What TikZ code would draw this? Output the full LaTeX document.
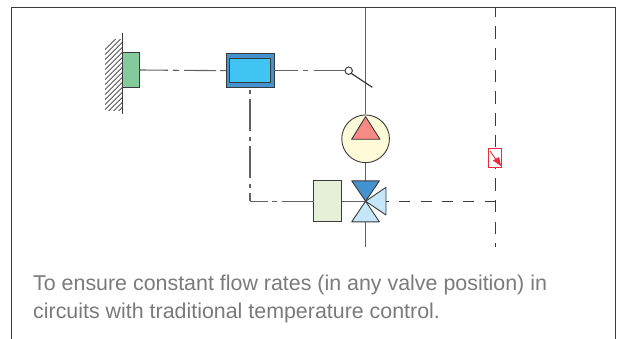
\documentclass[tikz,border=0pt]{standalone}
\usepackage{fontspec}
\setmainfont{Liberation Sans}
\definecolor{lineg}{HTML}{626262}
\definecolor{dark}{HTML}{3A3A3A}
\definecolor{txt}{HTML}{7A7A7A}
\definecolor{sgreen}{HTML}{84CB9B}
\definecolor{bout}{HTML}{4393D0}
\definecolor{binn}{HTML}{40C4F4}
\definecolor{pcream}{HTML}{FFFBD8}
\definecolor{ppink}{HTML}{F78A84}
\definecolor{agreen}{HTML}{E6F0D8}
\definecolor{vblue}{HTML}{4393D0}
\definecolor{vlight}{HTML}{C5E7F9}
\definecolor{sred}{HTML}{EE2B3B}
\tikzset{
  x=1pt,y=-1pt,
  frameline/.style={draw=dark,line width=1pt},
  pipe/.style={draw=lineg,line width=1.1pt},
  ctrl/.style={draw=lineg,line width=1.1pt},
  part/.style={draw=dark,line width=1pt,inner sep=0pt,outer sep=0pt,shape=rectangle},
  tri/.style={draw=dark,line width=0.9pt,line join=round},
  captext/.style={anchor=base west,text=txt,font=\fontsize{21.4pt}{27pt}\selectfont,inner sep=0pt}
}
\begin{document}
\begin{tikzpicture}
\useasboundingbox (0,0) rectangle (617,339);
% frame
\coordinate (fa) at (11,339);
\coordinate (fb) at (11,8);
\coordinate (fc) at (615,8);
\coordinate (fd) at (615,339);
\draw[frameline] (fa) -- (fb) -- (fc) -- (fd);
% wall hatching
\begin{scope}
\clip (105,39.5) rectangle (122.5,110.5);
\foreach \i in {0,...,16} {
  \draw[dark,line width=0.75pt] (105,49.7+\i*5) -- ++(17.5,-17.5);
}
\end{scope}
\coordinate (wt) at (122.5,33);
\coordinate (wb) at (122.5,114);
\draw[dark,line width=1.2pt] (wt) -- (wb);
% nodes
\node[part,fill=sgreen,minimum width=17pt,minimum height=34.5pt] (sensor) at (131,70) {};
\node[part,fill=bout,minimum width=48pt,minimum height=34.5pt] (ctrlbox) at (250,70.7) {};
\node[part,fill=binn,minimum width=41.5pt,minimum height=24pt] (ctrlin) at (250,70.7) {};
\node[draw=dark,line width=1pt,circle,inner sep=0pt,minimum size=7.4pt,fill=white] (sw) at (348.7,70.7) {};
\coordinate (swend) at (372.3,87.3);
\coordinate (ptop) at (365.6,8);
\node[draw=dark,line width=0.9pt,circle,fill=pcream,inner sep=0pt,minimum size=47.7pt] (pump) at (365.6,138.8) {};
\node[part,fill=agreen,minimum width=27.7pt,minimum height=41pt] (act) at (327.8,201.2) {};
\coordinate (vc) at (365.6,201.2);
\coordinate (pbot) at (365.6,247);
\coordinate (rtop) at (495.3,8);
\coordinate (rjoin) at (495.3,201.2);
\coordinate (rbot) at (495.3,247);
\coordinate (elbow) at (250,201.2);
\coordinate (vtop) at (365.6,181);
\coordinate (vbot) at (365.6,222);
\coordinate (vright) at (386,201.2);
% connectors
\draw[ctrl,dash pattern=on 28.5pt off 5pt on 6pt off 5pt on 32pt off 4pt on 6pt off 9pt] (sensor.east) -- (ctrlbox.west);
\draw[ctrl,dash pattern=on 24pt off 5pt on 5pt off 6pt on 40pt off 9pt] (ctrlbox.east) -- (sw.west);
\draw[ctrl,dash pattern=on 4pt off 5pt on 32pt off 6pt,dash phase=45pt] (ctrlbox.south) -- (elbow);
\draw[ctrl,dash pattern=on 18pt off 4pt on 5pt off 5pt on 40pt off 9pt] (elbow) -- (act.west);
\draw[pipe] (ptop) -- (pump.north);
\draw[pipe] (pump.south) -- (vtop);
\draw[pipe] (act.east) -- (vc);
\draw[pipe] (vbot) -- (pbot);
\draw[dark,line width=1.2pt] (sw.south east) -- (swend);
% pump triangle
\draw[tri,fill=ppink] (365.6,116.7) -- (380,139.3) -- (351.6,139.3) -- cycle;
% valve
\draw[tri,fill=vblue] (vc) -- (351.7,180.8) -- (379.4,180.8) -- cycle;
\draw[tri,fill=vlight] (vc) -- (351.7,221.8) -- (379.4,221.8) -- cycle;
\draw[tri,fill=vlight] (vc) -- (386,187.3) -- (386,215) -- cycle;
% dashed return
\draw[dark,line width=1.1pt,dash pattern=on 11pt off 10.3pt,dash phase=8pt] (vright) -- (rjoin);
\draw[dark,line width=1.1pt,dash pattern=on 12.5pt off 9.2pt,dash phase=3.4pt] (rtop) -- (rbot);
% small sensor
\node[draw=sred,fill=white,line width=1pt,inner sep=0pt,minimum width=13.4pt,minimum height=19pt] (ts) at (495.2,157.8) {};
\draw[sred,line width=0.9pt] (490,151) -- (497,161);
\fill[sred] (501.3,166.3) -- (492.8,160.5) -- (499,157) -- cycle;
% text
\node[captext] (cap1) at (33,290.7) {To ensure constant flow rates (in any valve position) in};
\node[captext] (cap2) at (33,318) {circuits with traditional temperature control.};
\end{tikzpicture}
\end{document}
